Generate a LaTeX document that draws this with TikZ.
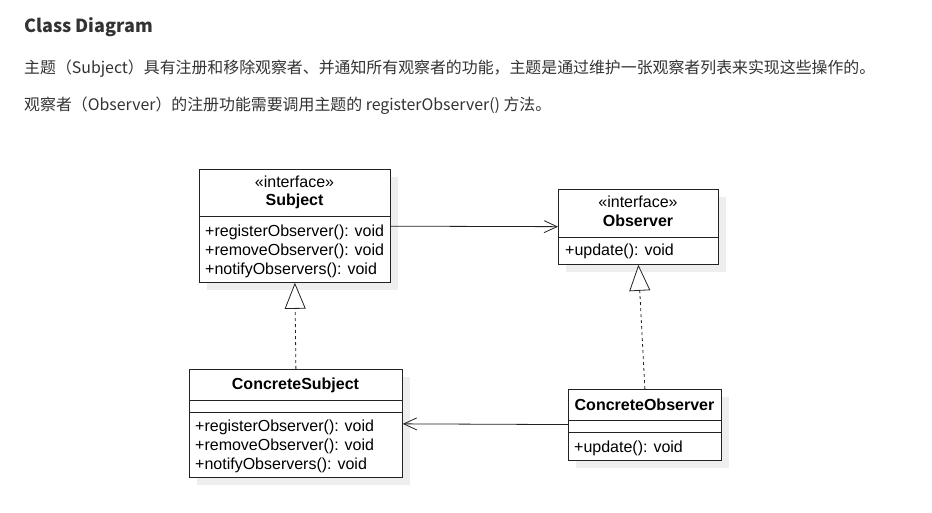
\documentclass[tikz,border=0pt]{standalone}
\usepackage{fontspec}
\setmainfont{Liberation Sans}
\newfontfamily\cjk{Noto Sans CJK SC}
\usetikzlibrary{arrows.meta,shadows}
\definecolor{inkblack}{RGB}{34,34,34}
\definecolor{textgray}{RGB}{51,51,51}
\definecolor{shadowgray}{RGB}{238,238,238}
\newcommand{\umlfont}{\fontsize{16}{19}\selectfont}

\begin{document}
\begin{tikzpicture}[x=1pt, y=-1pt, every node/.style={inner sep=0pt},
  cls/.style={draw=inkblack, fill=white, anchor=north west, line width=0.8pt,
    drop shadow={shadow xshift=8pt, shadow yshift=-8pt, fill=shadowgray, opacity=1}},
  sep/.style={draw=inkblack, line width=0.8pt},
  ster/.style={font=\umlfont, anchor=base},
  clsname/.style={font=\umlfont\bfseries, anchor=base},
  ops/.style={font=\umlfont, align=left, anchor=base west},
  intro/.style={font=\cjk\fontsize{15.9}{18}\selectfont, text=textgray, anchor=base west},
  assoc/.style={-{Straight Barb[length=13pt, width=12pt]}, draw=inkblack, line width=0.8pt},
  realize/.style={-{Triangle[open, length=26pt, width=21pt, fill=white]}, draw=inkblack,
    line width=0.8pt, dash pattern=on 3pt off 3pt}]
\fill[white] (0,0) rectangle (932,513);
\useasboundingbox (0,0) rectangle (932,513);

% heading and text
\node[font=\cjk\fontsize{18}{22}\selectfont\bfseries, text=textgray, anchor=base west] (title) at (24,33) {Class Diagram};
\node[intro] (introa) at (24,74) {主题（Subject）具有注册和移除观察者、并通知所有观察者的功能，主题是通过维护一张观察者列表来实现这些操作的。};
\node[intro] (introb) at (24,111) {观察者（Observer）的注册功能需要调用主题的 registerObserver() 方法。};

% Subject
\node[cls, minimum width=191pt, minimum height=113pt] (subj) at (199,169) {};
\draw[sep] (subj.west |- 0,216) -- (subj.east |- 0,216);
\node[ster] (subjster) at (294.5,188) {«interface»};
\node[clsname] (subjname) at (294.5,206) {Subject};
\node[ops] (subjops) at (205,274) {+registerObserver(): void\\+removeObserver(): void\\+notifyObservers(): void};

% Observer
\node[cls, minimum width=160pt, minimum height=75pt] (obs) at (558,189) {};
\draw[sep] (obs.west |- 0,237) -- (obs.east |- 0,237);
\node[ster] (obsster) at (638,208) {«interface»};
\node[clsname] (obsname) at (638,227) {Observer};
\node[ops] (obsops) at (565,256) {+update(): void};

% ConcreteSubject
\node[cls, minimum width=213pt, minimum height=108pt] (csubj) at (189,369) {};
\draw[sep] (csubj.west |- 0,400) -- (csubj.east |- 0,400);
\draw[sep] (csubj.west |- 0,412) -- (csubj.east |- 0,412);
\node[clsname] (csubjname) at (295.5,389) {ConcreteSubject};
\node[ops] (csubjops) at (195,469.5) {+registerObserver(): void\\+removeObserver(): void\\+notifyObservers(): void};

% ConcreteObserver
\node[cls, minimum width=153pt, minimum height=71pt] (cobs) at (568,389) {};
\draw[sep] (cobs.west |- 0,420) -- (cobs.east |- 0,420);
\draw[sep] (cobs.west |- 0,432) -- (cobs.east |- 0,432);
\node[clsname] (cobsname) at (644.5,410) {ConcreteObserver};
\node[ops] (cobsops) at (574,452) {+update(): void};

% relations
\draw[assoc] (subj) -- (obs);
\draw[assoc] (cobs) -- (csubj);
\draw[realize] (csubj.north) -- (subj.south);
\draw[realize] (cobs.north) -- (obs.south);
\end{tikzpicture}
\end{document}
